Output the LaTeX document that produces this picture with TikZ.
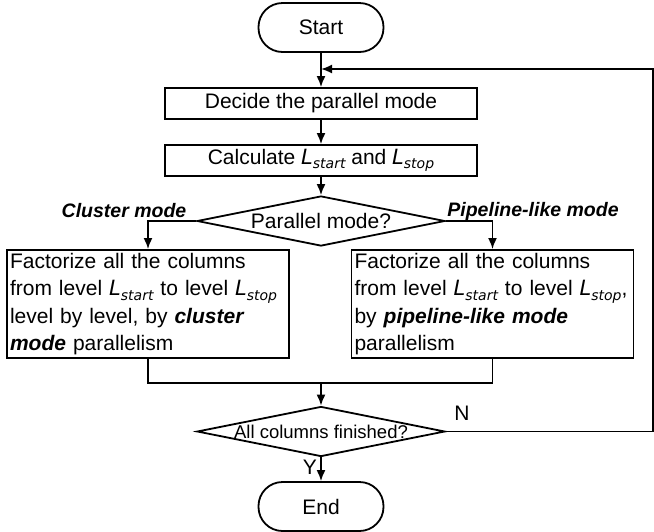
\documentclass[tikz,border=0pt]{standalone}
\usepackage{fontspec}
\setmainfont{Liberation Sans}
\newfontfamily\varfont{DejaVu Sans}
\usepackage{tikz}
\usetikzlibrary{shapes.geometric, arrows.meta}

\newcommand{\Lsub}[1]{{\varfont\itshape L\raisebox{-4.5pt}{\fontsize{14}{14}\selectfont #1}}}

\begin{document}
\begin{tikzpicture}[x=1pt, y=-1pt, line width=1.8pt, >={Latex[length=11pt,width=9pt]},
  every node/.style={font=\fontsize{21}{27}\selectfont},
  term/.style={draw, rounded corners=24pt, minimum width=125pt, minimum height=49pt},
  proc/.style={draw, minimum width=312pt, minimum height=31pt, inner sep=0pt},
  factbox/.style={draw, text width=276pt, minimum height=108pt, align=left, inner sep=3pt,
    font=\fontsize{21}{27.5}\selectfont},
  decide/.style={draw, diamond, inner sep=0pt, minimum width=248pt, minimum height=50pt},
  modelabel/.style={font=\fontsize{19.5}{24}\selectfont\bfseries\itshape}]
\useasboundingbox (0,0) rectangle (654,531);

\coordinate (S) at (321,27.5);
\coordinate (D) at (321,103.5);
\coordinate (C) at (321,160.5);
\coordinate (M) at (321,221);
\coordinate (P1) at (148,304);
\coordinate (P2) at (492.5,304);
\coordinate (J) at (321,383);
\coordinate (F) at (321,431.5);
\coordinate (E) at (321,506.5);
\coordinate (R) at (653,69);
\coordinate (B) at (321,69);

\node[term] (start) at (S) {Start};
\node[proc] (decide) at (D) {Decide the parallel mode};
\node[proc] (calc) at (C) {Calculate \Lsub{start} and \Lsub{stop}};
\node[decide] (mode) at (M) {\makebox[0pt]{Parallel mode?}};
\node[factbox] (cluster) at (P1) {Factorize all the columns\\
  \mbox{from level \Lsub{start} to level \Lsub{stop}}\\
  level by level, by \textbf{\textit{cluster}}\\
  \textbf{\textit{mode}} parallelism};
\node[factbox] (pipe) at (P2) {Factorize all the columns\\
  \mbox{from level \Lsub{start} to level \Lsub{stop},}\\
  by \textbf{\textit{pipeline-like mode}}\\
  parallelism};
\node[decide] (done) at (F) {\makebox[0pt]{\fontsize{18.5}{22}\selectfont All columns finished?}};
\node[term] (end) at (E) {End};

\node[modelabel] (cl) at (124,211) {Cluster mode};
\node[modelabel] (pl) at (533,211) {Pipeline-like mode};

\draw[->] (start) -- (decide);
\draw[->] (decide) -- (calc);
\draw[->] (calc) -- (mode);
\draw[->] (mode.west) -| (cluster.north);
\draw[->] (mode.east) -| (pipe.north);
\draw (cluster.south) |- (J) -| (pipe.south);
\draw[->] (J) -- (done);
\draw[->] (done) -- node[left, pos=0.4] (yes) {Y} (end);
\draw[->] (done.east) -| (R) -- (B);  % back to the top
\node (no) at (462,413) {N};
\end{tikzpicture}
\end{document}
